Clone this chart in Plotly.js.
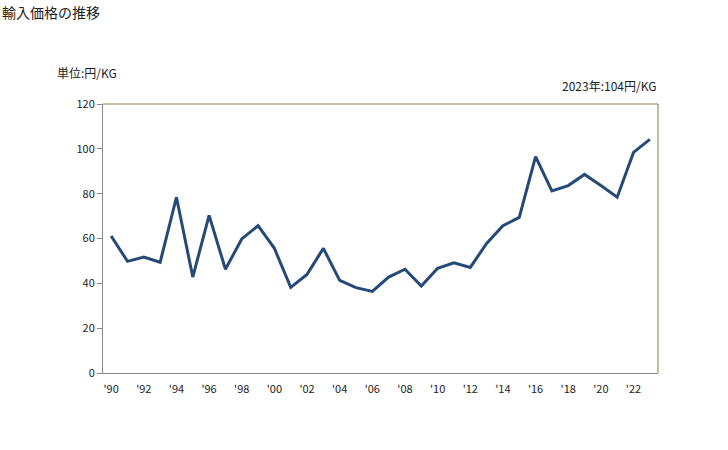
<!DOCTYPE html>
<html>
<head>
<meta charset="utf-8">
<script src="https://cdn.plot.ly/plotly-3.0.1.min.js"></script>
<style>html,body{margin:0;padding:0;background:#fff;}#chart{width:728px;height:450px;}</style>
</head>
<body>
<div id="chart"></div>
<script>
const years = [1990,1991,1992,1993,1994,1995,1996,1997,1998,1999,2000,2001,2002,2003,2004,2005,2006,2007,2008,2009,2010,2011,2012,2013,2014,2015,2016,2017,2018,2019,2020,2021,2022,2023];
const prices = [61.1,49.8,51.7,49.4,78.4,42.8,70.3,46.3,59.8,65.7,55.6,38.2,44.0,55.6,41.3,38.1,36.4,42.8,46.3,38.8,46.7,49.2,47.1,57.8,65.7,69.4,96.5,81.2,83.6,88.6,83.6,78.4,98.4,104.2];
const tickYears = [1990,1992,1994,1996,1998,2000,2002,2004,2006,2008,2010,2012,2014,2016,2018,2020,2022];
const tickLabels = ["'90","'92","'94","'96","'98","'00","'02","'04","'06","'08","'10","'12","'14","'16","'18","'20","'22"];
const yTicks = [0,20,40,60,80,100,120];

const fontFam = '"Noto Sans CJK JP", "Liberation Sans", sans-serif';

Plotly.newPlot('chart', [{
  x: years, y: prices, type: 'scatter', mode: 'lines',
  line: {color: '#264a78', width: 3}, hoverinfo: 'skip'
}], {
  width: 728, height: 450,
  margin: {l: 103, r: 70, t: 104, b: 77},
  paper_bgcolor: '#fff', plot_bgcolor: '#fff',
  showlegend: false,
  font: {family: fontFam, size: 11, color: '#222'},
  xaxis: {
    range: [1989.5, 2023.5], tickvals: tickYears, ticktext: tickLabels,
    showgrid: false, zeroline: false, showline: true, linecolor: '#888', linewidth: 1,
    ticks: '', ticklabelstandoff: 6, tickfont: {size: 11, color: '#222'}, fixedrange: true
  },
  yaxis: {
    range: [0, 120], tickvals: yTicks, showgrid: false, zeroline: false,
    showline: true, linecolor: '#888', linewidth: 1,
    ticks: 'outside', ticklen: 5, tickcolor: '#888',
    tickfont: {size: 11, color: '#222'}, fixedrange: true
  },
  shapes: [
    {type: 'line', xref: 'paper', yref: 'paper', x0: 0, x1: 1, y0: 1, y1: 1, line: {color: '#8c7a3c', width: 1}},
    {type: 'line', xref: 'paper', yref: 'paper', x0: 1, x1: 1, y0: 0, y1: 1, line: {color: '#8c7a3c', width: 1}}
  ],
  annotations: [
    {text: '輸入価格の推移', xref: 'paper', yref: 'paper', x: -103/555, y: 1 + 92/269, xanchor: 'left', yanchor: 'middle', showarrow: false, font: {size: 14, color: '#222'}},
    {text: '単位:円/KG', xref: 'paper', yref: 'paper', x: -48/555, y: 1 + 31/269, xanchor: 'left', yanchor: 'middle', showarrow: false, font: {size: 12, color: '#222'}},
    {text: '2023年:104円/KG', xref: 'paper', yref: 'paper', x: 1, y: 1 + 19/269, xanchor: 'right', yanchor: 'middle', showarrow: false, font: {size: 12, color: '#222'}}
  ]
}, {displayModeBar: false, staticPlot: true});
</script>
</body>
</html>
